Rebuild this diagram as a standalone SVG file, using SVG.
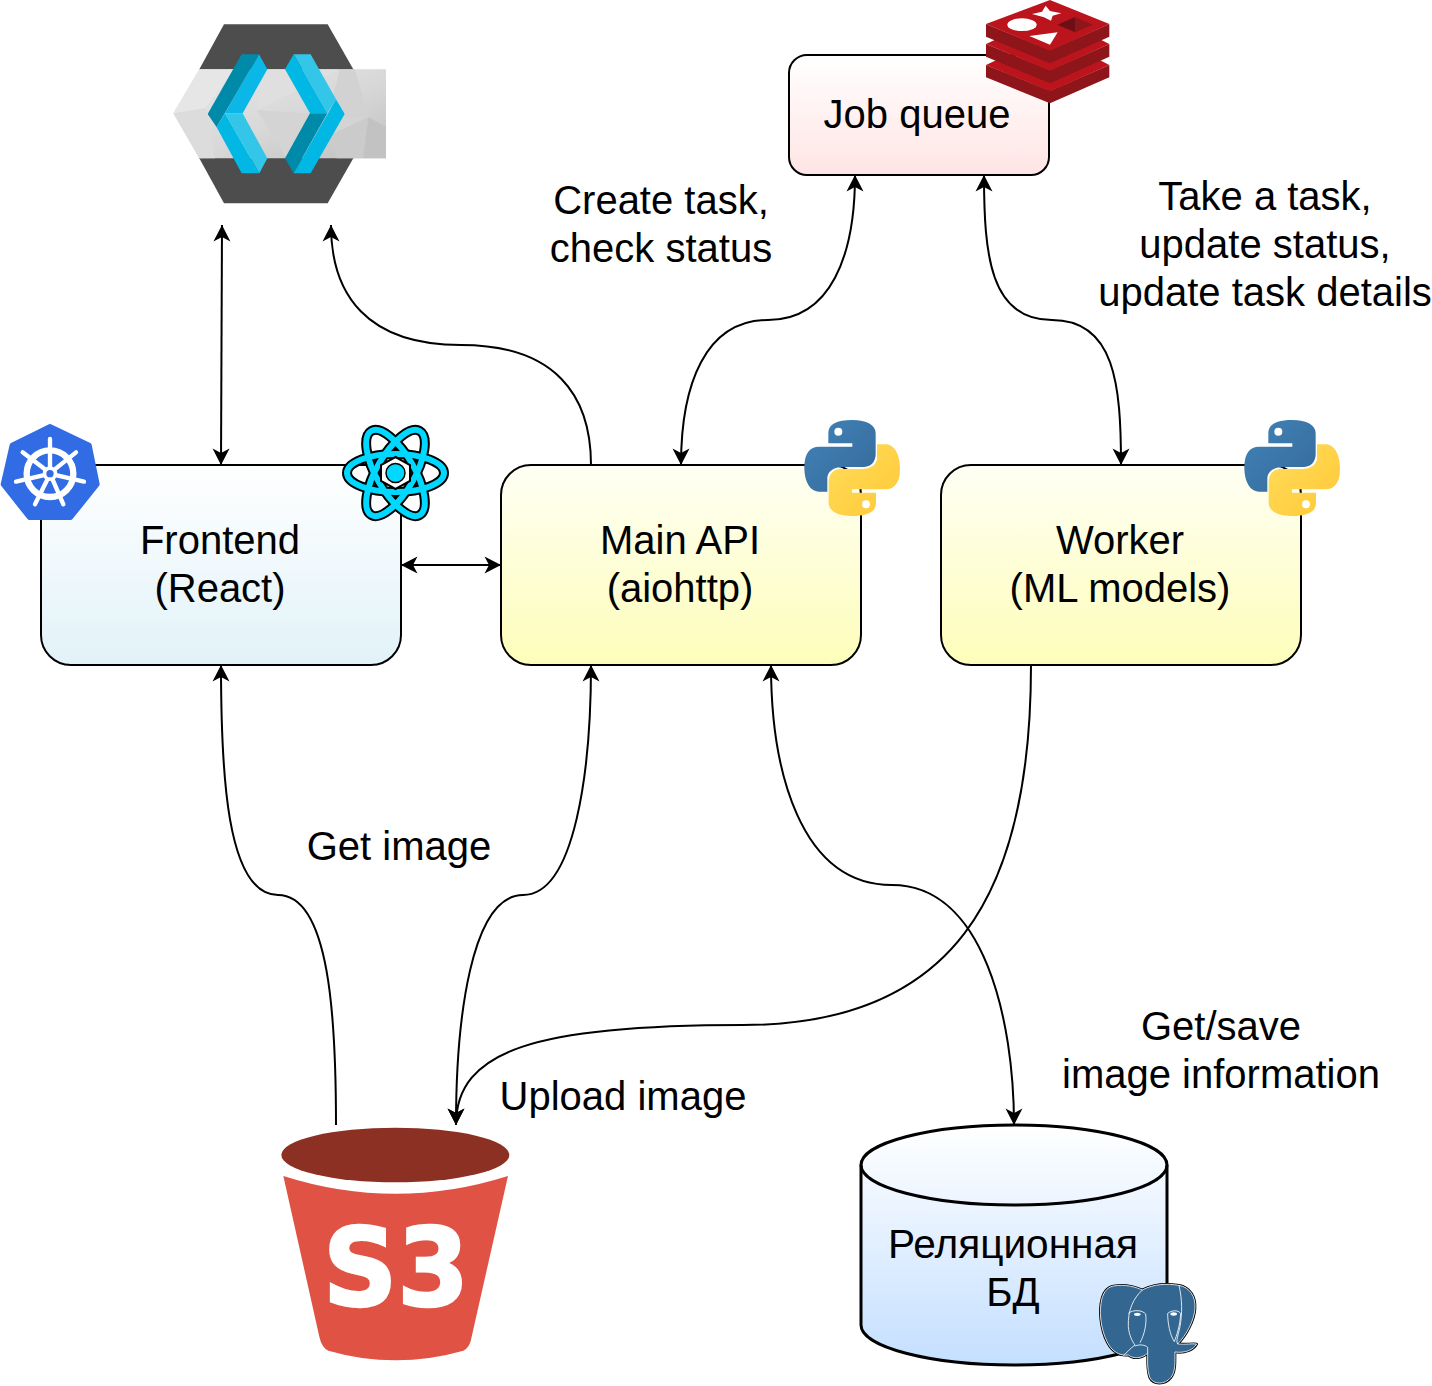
<svg xmlns="http://www.w3.org/2000/svg" width="1432" height="1386" viewBox="0 0 1432 1386">
<style>
text{font-family:"Liberation Sans",Arial,sans-serif;font-size:40px;fill:#000;text-anchor:middle}
.box{stroke:#000;stroke-width:2}
.edge{fill:none;stroke:#000;stroke-width:2}
.both{marker-start:url(#arrow);marker-end:url(#arrow)}
.end{marker-end:url(#arrow)}
</style>
<defs>
<marker id="arrow" markerUnits="userSpaceOnUse" markerWidth="20" markerHeight="20" refX="17" refY="10" orient="auto-start-reverse"><path d="M17 10L0.500 1.500L5 10L0.500 18.500Z" fill="#000"/></marker>
<linearGradient id="gBlue" x1="0" y1="0" x2="0" y2="1"><stop offset="0" stop-color="#fff"/><stop offset="1" stop-color="#e1f2f8"/></linearGradient>
<linearGradient id="gYellow" x1="0" y1="0" x2="0" y2="1"><stop offset="0" stop-color="#fffff4"/><stop offset="1" stop-color="#fdfdba"/></linearGradient>
<linearGradient id="gPink" x1="0" y1="0" x2="0" y2="1"><stop offset="0" stop-color="#fff"/><stop offset="1" stop-color="#ffe4e4"/></linearGradient>
<linearGradient id="gDb" x1="0" y1="0" x2="0" y2="1"><stop offset="0" stop-color="#fff"/><stop offset="1" stop-color="#c4dfff"/></linearGradient>
<linearGradient id="gBand" x1="0" y1="0" x2="1" y2="1"><stop offset="0" stop-color="#e8e8e8"/><stop offset=".55" stop-color="#d8d8d8"/><stop offset="1" stop-color="#c0c0c0"/></linearGradient>
<linearGradient id="gPyB" x1="0" y1="0" x2="1" y2="1"><stop offset="0" stop-color="#4183b8"/><stop offset="1" stop-color="#36699a"/></linearGradient>
<linearGradient id="gPyY" x1="0" y1="0" x2="1" y2="1"><stop offset="0" stop-color="#ffc836"/><stop offset="1" stop-color="#ffdd5c"/></linearGradient>
<path id="pySnake" d="M172 30C125 30 100 42 100 70V100H172V110H72C45 110 28 130 28 172C28 215 45 245 72 245H97V205C97 185 115 171 145 171H205C228 171 242 155 242 132V70C242 45 215 30 172 30Z"/>
<g id="python">
<use href="#pySnake" fill="url(#gPyB)"/>
<circle cx="130" cy="65" r="12" fill="#fff"/>
<g transform="rotate(180 171.500 174)"><use href="#pySnake" fill="url(#gPyY)"/><circle cx="130" cy="65" r="12" fill="#fff"/></g>
</g>
</defs>

<g id="connectors">
<path class="edge both" d="M221 465L222 225"/>
<path class="edge end" d="M591 465C591 395 555 345 461 345C367 345 331 295 331 225"/>
<path class="edge both" d="M681 465C681 385 705 320 768 320C831 320 855 255 855 175"/>
<path class="edge both" d="M1121 465C1121 385 1115 320 1052 320C990 320 984 255 984 175"/>
<path class="edge both" d="M401 565H501"/>
<path class="edge end" d="M336 1125C336 1020 330 895 278 895C226 895 221 770 221 665"/>
<path class="edge both" d="M591 665C591 770 575 895 523 895C471 895 456 1020 456 1125"/>
<path class="edge both" d="M771 665C771 770 800 885 892 885C984 885 1014 1020 1014 1125"/>
<path class="edge end" d="M1031 665C1031 900 950 1025 743 1025C536 1025 456 1050 456 1125"/>
</g>

<g id="keycloak" transform="translate(160 10) scale(.33333)">
<path fill="#4d4d4d" d="M192 43H503L580 178V445L503 580H192L118 445V178Z"/>
<path fill="url(#gBand)" d="M118 178H678V445H118L40 310Z"/>
<path fill="#e6e6e6" d="M118 178H225L135 295L40 310Z"/>
<path fill="#dcdcdc" d="M40 310L135 295L165 445H118Z"/>
<path fill="#dfdfdf" d="M300 178H540L290 300Z"/>
<path fill="#d4d4d4" d="M290 300L625 322L500 380L380 445Z"/>
<path fill="#d2d2d2" d="M540 178H585L625 322L500 330Z"/>
<path fill="#cbcbcb" d="M500 380L625 322L610 445H530Z"/>
<path fill="#c2c2c2" d="M625 322L678 350V445H610Z"/>
<path fill="#0ab7e6" d="M297 133L322 178L248 310H195L245 222Z"/>
<path fill="#008aaa" d="M245 133H297L170 352L143 312Z"/>
<path fill="#00b8e3" d="M170 352L195 310L298 490H245Z"/>
<path fill="#33c6e9" d="M195 310H248L322 445L298 490Z"/>
<path fill="#33c6e9" d="M401 133H452L528 268L502 310Z"/>
<path fill="#00b8e3" d="M375 178L401 133L502 310H450Z"/>
<path fill="#008aaa" d="M450 310H502L401 490L375 445Z"/>
<path fill="#00b8e3" d="M528 268L554 312L452 490H401Z"/>
</g>

<g id="job-queue">
<rect class="box" x="789" y="55" width="260" height="120" rx="18" fill="url(#gPink)"/>
<text x="917" y="128">Job queue</text>
<g id="redis-icon" transform="translate(970 0) scale(.33333)">
<path fill="#8e1519" d="M48 195L240 272L418 195V232L240 310L48 232Z"/>
<path fill="#bb141d" d="M48 195L100 170L240 210L370 170L418 195L240 274Z"/>
<path fill="#8e1519" d="M48 132L240 210L418 132V170L240 250L48 170Z"/>
<path fill="#bb141d" d="M48 132L100 108L240 150L370 108L418 132L240 212Z"/>
<path fill="#8e1519" d="M48 72L240 150L418 72V110L240 190L48 110Z"/>
<path fill="#bb141d" d="M48 72L240 0L418 72L240 152Z"/>
<ellipse cx="156" cy="74" rx="44" ry="19" fill="#fff"/>
<path fill="#fff" d="M227 17L240 33L274 40L248 47L243 62L222 52L186 42L216 35Z"/>
<path fill="#fff" d="M178 108L263 97L240 134Z"/>
<path fill="#6d0f14" d="M262 74L316 51L316 97Z"/>
<path fill="#8e1519" d="M316 51L368 74L316 97Z"/>
</g>
</g>

<text x="661" y="214">Create task,</text>
<text x="661" y="262">check status</text>
<text x="1265" y="210">Take a task,</text>
<text x="1265" y="258">update status,</text>
<text x="1265" y="306">update task details</text>
<text x="399" y="860">Get image</text>
<text x="623" y="1110">Upload image</text>
<text x="1221" y="1040">Get/save</text>
<text x="1221" y="1088">image information</text>

<g id="frontend">
<rect class="box" x="41" y="465" width="360" height="200" rx="30" fill="url(#gBlue)"/>
<text x="220" y="554">Frontend</text>
<text x="220" y="602">(React)</text>
<g id="kubernetes-icon" transform="translate(0 415) scale(.33333)">
<path fill="#326ce5" stroke="#326ce5" stroke-width="14" stroke-linejoin="round" d="M150 34L268 90L292 208L212 308H88L9 208L36 90Z"/>
<g fill="none" stroke="#fff" stroke-linecap="round">
<circle cx="150" cy="176" r="70" stroke-width="19"/>
<path stroke-width="13" d="M150 72V154M228 112L167 161M252 200L171 181M190 268L159 196M105 268L141 196M48 200L129 181M68 112L133 161"/>
</g>
<circle cx="150" cy="176" r="22" fill="#fff"/>
<circle cx="150" cy="176" r="11" fill="#326ce5"/>
</g>
<g id="react-icon" transform="translate(395.500 473)">
<g fill="none" stroke="#000" stroke-width="10"><ellipse rx="48.500" ry="19"/><ellipse rx="48.500" ry="19" transform="rotate(60)"/><ellipse rx="48.500" ry="19" transform="rotate(120)"/></g>
<g fill="none" stroke="#00d8ff" stroke-width="6"><ellipse rx="48.500" ry="19"/><ellipse rx="48.500" ry="19" transform="rotate(60)"/><ellipse rx="48.500" ry="19" transform="rotate(120)"/></g>
<path fill="#fff" stroke="#000" stroke-width="2" d="M0 -16L14.500 -8V8L0 16L-14.500 8V-8Z"/>
<circle r="9.500" fill="#00d8ff" stroke="#000" stroke-width="1.500"/>
</g>
</g>

<g id="main-api">
<rect class="box" x="501" y="465" width="360" height="200" rx="30" fill="url(#gYellow)"/>
<text x="680" y="554">Main API</text>
<text x="680" y="602">(aiohttp)</text>
<use href="#python" transform="translate(795 410) scale(.33333)"/>
</g>

<g id="worker">
<rect class="box" x="941" y="465" width="360" height="200" rx="30" fill="url(#gYellow)"/>
<text x="1120" y="554">Worker</text>
<text x="1120" y="602">(ML models)</text>
<use href="#python" transform="translate(1235 410) scale(.33333)"/>
</g>

<g id="s3">
<g transform="translate(270 1110) scale(.33333)">
<ellipse cx="376" cy="135" rx="342" ry="82" fill="#8c3023"/>
<path fill="#e05243" d="M40 198Q376 305 714 198L605 680Q600 712 580 722Q376 780 175 722Q155 712 148 680Z"/>
</g>
<text x="396" y="1305" textLength="146" lengthAdjust="spacingAndGlyphs" style="font-family:'DejaVu Sans',sans-serif;font-weight:700;font-size:108px;fill:#fff;stroke:#fff;stroke-width:2.500">S3</text>
</g>

<g id="database">
<path d="M861 1165C861 1143 930 1125 1014 1125C1098 1125 1167 1143 1167 1165V1325C1167 1347 1098 1365 1014 1365C930 1365 861 1347 861 1325Z" fill="url(#gDb)" stroke="#000" stroke-width="3"/>
<path d="M861 1165C861 1187 930 1205 1014 1205C1098 1205 1167 1187 1167 1165" fill="none" stroke="#000" stroke-width="3"/>
<text x="1013" y="1258" textLength="250" lengthAdjust="spacingAndGlyphs">Реляционная</text>
<text x="1013" y="1306">БД</text>
<g id="postgres-icon" transform="translate(1085 1270) scale(.33333)">
<path fill="#336791" stroke="#000" stroke-width="8" stroke-linejoin="round" d="M85 48C120 42 150 50 172 60C205 42 245 40 282 46C315 52 332 80 330 115C328 150 305 195 278 222C300 224 322 220 335 222C325 240 300 250 270 246C270 275 272 305 258 322C240 345 205 345 194 322C186 300 188 270 188 250C170 265 145 268 130 255C110 258 90 250 75 230C50 195 42 135 48 100C52 70 65 52 85 48Z"/>
<path fill="#336791" stroke="#fff" stroke-width="2.500" stroke-linejoin="round" d="M85 48C120 42 150 50 172 60C205 42 245 40 282 46C315 52 332 80 330 115C328 150 305 195 278 222C300 224 322 220 335 222C325 240 300 250 270 246C270 275 272 305 258 322C240 345 205 345 194 322C186 300 188 270 188 250C170 265 145 268 130 255C110 258 90 250 75 230C50 195 42 135 48 100C52 70 65 52 85 48Z"/>
<g fill="none" stroke="#fff" stroke-width="2.500">
<path d="M172 60C145 85 128 120 130 170C132 195 142 215 150 225C135 235 125 250 115 256"/>
<path d="M130 130C145 118 172 120 182 132C186 160 178 195 165 218"/>
<path d="M282 46C292 90 292 130 285 170C280 195 272 212 278 222"/>
<path d="M248 130C260 120 280 120 287 130C285 170 275 195 268 215C255 195 248 160 248 130Z"/>
<path d="M150 228C165 222 180 225 188 232V250"/>
</g>
<ellipse cx="157" cy="133" rx="10" ry="5" fill="#fff"/>
<ellipse cx="266" cy="132" rx="10" ry="5" fill="#fff"/>
</g>
</g>
</svg>
